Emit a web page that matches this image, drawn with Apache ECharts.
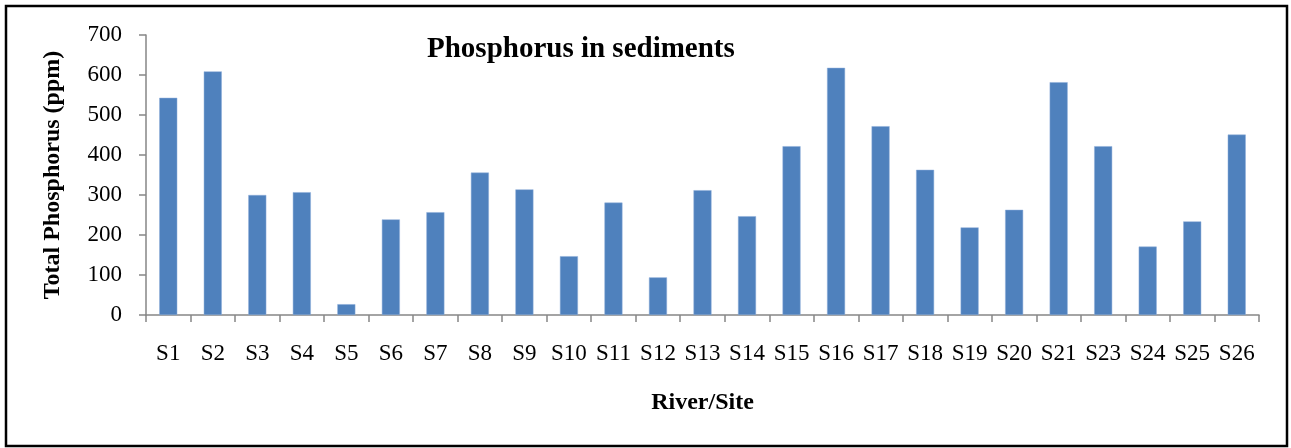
<!DOCTYPE html>
<html>
<head>
<meta charset="utf-8">
<script src="https://cdn.jsdelivr.net/npm/echarts@6/dist/echarts.min.js"></script>
<style>
html,body{margin:0;padding:0;background:#fff;}
#chart{width:1291px;height:448px;}
</style>
</head>
<body>
<div id="chart"></div>
<script>
const categories = ['S1','S2','S3','S4','S5','S6','S7','S8','S9','S10','S11','S12','S13','S14','S15','S16','S17','S18','S19','S20','S21','S23','S24','S25','S26'];
const phosphorus = [543,609,300,307,27,239,257,356,314,147,281,94,312,247,422,618,472,363,219,263,582,422,171,234,451];
const yMin = 0, yMax = 700, yStep = 100;

const font = 'Liberation Serif, Times New Roman, serif';
const axisGray = '#868686';

const chart = echarts.init(document.getElementById('chart'), null, {renderer:'canvas'});
chart.setOption({
  animation:false,
  backgroundColor:'#ffffff',
  title:{
    text:'Phosphorus in sediments',
    left:427, top:35, padding:0,
    textStyle:{fontFamily:font, fontSize:29, fontWeight:'bold', color:'#000'}
  },
  graphic:[{
    type:'rect',
    shape:{x:6,y:6,width:1281,height:440},
    style:{fill:'none', stroke:'#000', lineWidth:2.5}
  }],
  grid:{left:146, right:32, top:35, bottom:133, containLabel:false},
  xAxis:{
    type:'category',
    data:categories,
    boundaryGap:true,
    name:'River/Site',
    nameLocation:'middle',
    nameGap:76,
    nameTextStyle:{fontFamily:font, fontSize:24, fontWeight:'bold', color:'#000'},
    axisLine:{lineStyle:{color:axisGray, width:1.5}},
    axisTick:{show:true, alignWithLabel:false, length:7, lineStyle:{color:axisGray, width:1.5}},
    axisLabel:{fontFamily:font, fontSize:23, color:'#000', margin:27, interval:0}
  },
  yAxis:{
    type:'value',
    min:yMin, max:yMax, interval:yStep,
    name:'Total Phosphorus (ppm)',
    nameLocation:'middle',
    nameGap:81,
    nameTextStyle:{fontFamily:font, fontSize:24, fontWeight:'bold', color:'#000'},
    axisLine:{show:true, lineStyle:{color:axisGray, width:1.5}},
    axisTick:{show:true, length:7, lineStyle:{color:axisGray, width:1.5}},
    axisLabel:{fontFamily:font, fontSize:23, color:'#000', margin:24},
    splitLine:{show:false}
  },
  series:[{
    type:'bar',
    data:phosphorus,
    barWidth:18,
    itemStyle:{color:'#4F81BD', borderColor:'#8FAEDA', borderWidth:0.5}
  }]
});
</script>
</body>
</html>
